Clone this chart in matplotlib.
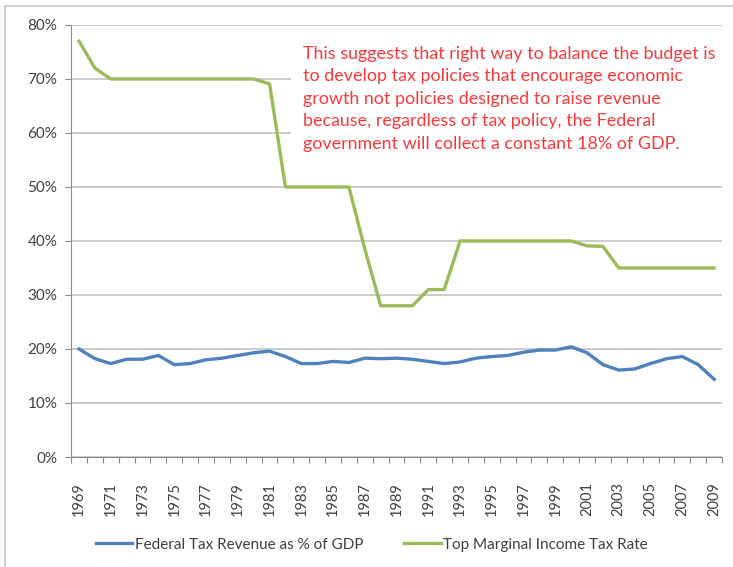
import matplotlib.pyplot as plt
import numpy as np
from matplotlib.patches import Rectangle

# Dati
anni = list(range(1969, 2010))
entrate_pil = [20.0, 18.2, 17.3, 18.1, 18.1, 18.8, 17.1, 17.3, 18.0, 18.3,
               18.8, 19.3, 19.6, 18.6, 17.3, 17.3, 17.7, 17.5, 18.3, 18.2,
               18.3, 18.1, 17.7, 17.3, 17.6, 18.3, 18.6, 18.8, 19.4, 19.8,
               19.8, 20.4, 19.3, 17.1, 16.1, 16.3, 17.3, 18.2, 18.6, 17.1,
               14.4]
aliquota_max = [77.0, 72.0, 70.0, 70.0, 70.0, 70.0, 70.0, 70.0, 70.0, 70.0,
                70.0, 70.0, 69.1, 50.0, 50.0, 50.0, 50.0, 50.0, 38.5, 28.0,
                28.0, 28.0, 31.0, 31.0, 40.0, 40.0, 40.0, 40.0, 40.0, 40.0,
                40.0, 40.0, 39.1, 39.0, 35.0, 35.0, 35.0, 35.0, 35.0, 35.0,
                35.0]
etichette_anni = [str(a) for a in anni[::2]]
nome_serie = ["Federal Tax Revenue as % of GDP", "Top Marginal Income Tax Rate"]
nota = ("This suggests that right way to balance the budget is\n"
        "to develop tax policies that encourage economic\n"
        "growth not policies designed to raise revenue\n"
        "because, regardless of tax policy, the Federal\n"
        "government will collect a constant 18% of GDP.")

plt.rcParams['font.family'] = ['Lato', 'DejaVu Sans']

fig = plt.figure(figsize=(7.33, 5.67), dpi=100)
ax = fig.add_axes([0.097, 0.194, 0.888, 0.762])

# bordo esterno del grafico
fig.patches.append(Rectangle((5 / 733, -0.1), 1.1, 1 - 6 / 567 + 0.1,
                             transform=fig.transFigure, fill=False,
                             edgecolor='#c8c8c8', linewidth=1.2))

x = np.arange(len(anni))
ax.plot(x, entrate_pil, color='#4F81BD', linewidth=2.4, label=nome_serie[0])
ax.plot(x, aliquota_max, color='#9BBB59', linewidth=2.4, label=nome_serie[1])

ax.set_xlim(-0.5, len(anni) - 0.5)
ax.set_ylim(0, 80)
ax.set_yticks(np.arange(0, 81, 10))
ax.set_yticklabels([f"{v}%" for v in range(0, 81, 10)], fontsize=11, color='#404040')
ax.yaxis.grid(True, color='#bdbdbd', linewidth=1.1)
ax.set_axisbelow(True)

# tacche sui confini delle categorie, etichette ogni due anni
ax.set_xticks(np.arange(-0.5, len(anni)), labels=[])
ax.set_xticks(x[::2], labels=etichette_anni, minor=True)
ax.tick_params(axis='x', which='major', length=4, color='#8c8c8c')
ax.tick_params(axis='x', which='minor', length=0, labelsize=10.5,
               labelrotation=90, labelcolor='#404040', pad=18)
ax.tick_params(axis='y', length=4, color='#8c8c8c', pad=6)

for lato in ['top', 'right']:
    ax.spines[lato].set_visible(False)
for lato in ['left', 'bottom']:
    ax.spines[lato].set_color('#8c8c8c')

# riquadro bianco della nota (copre la griglia)
ax.add_patch(Rectangle((0.338, 0.69), 0.67, 0.3, transform=ax.transAxes,
                       facecolor='white', edgecolor='none', zorder=1))
ax.text(0.356, 0.952, nota, transform=ax.transAxes, color='#f53b3b',
        fontsize=12.85, va='top', ha='left', linespacing=1.5, zorder=3)

ax.legend(loc='upper center', bbox_to_anchor=(0.462, -0.155), ncol=2,
          frameon=False, fontsize=11, handlelength=2.4, handletextpad=0.15,
          columnspacing=2.7, labelcolor='#404040')

fig.savefig('out.png', dpi=100)
